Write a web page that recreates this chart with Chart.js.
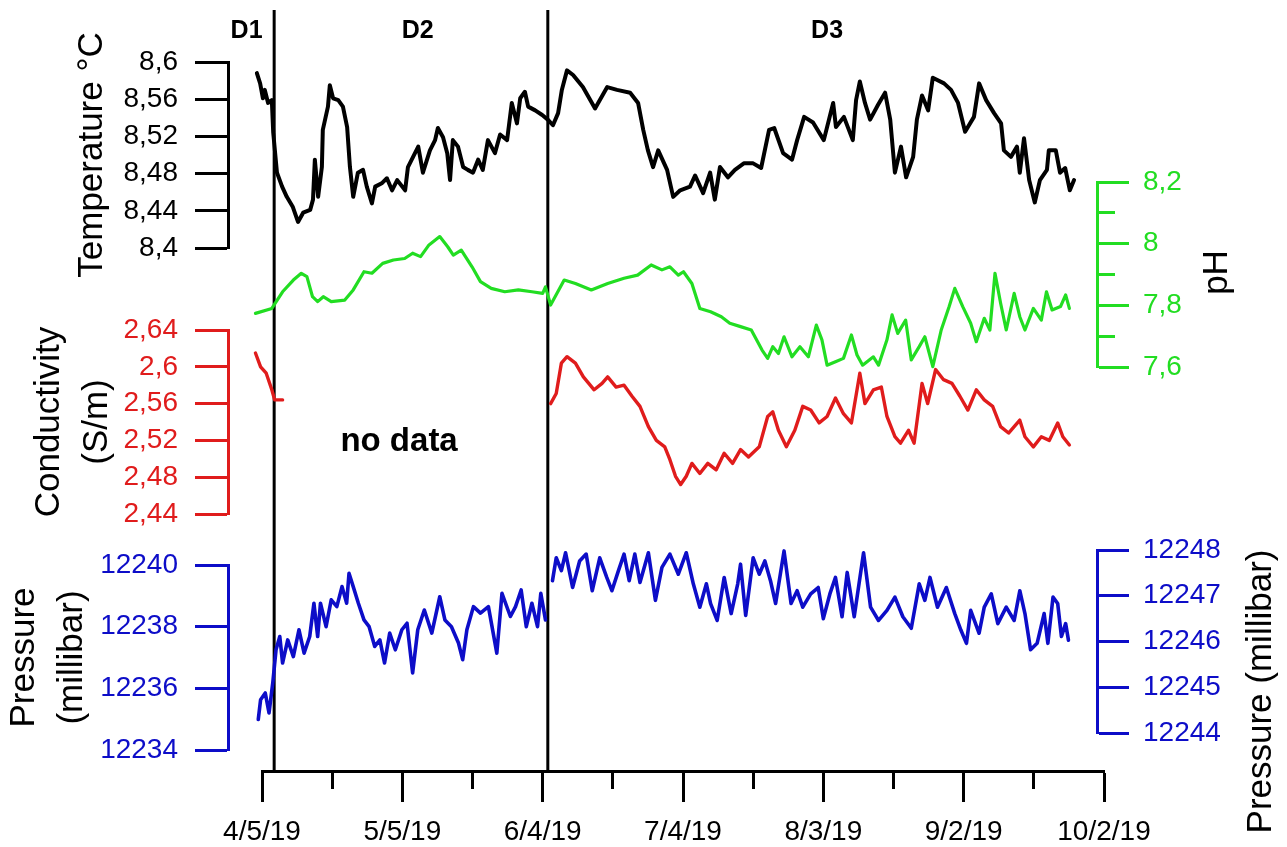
<!DOCTYPE html>
<html><head><meta charset="utf-8">
<script src="https://cdn.jsdelivr.net/npm/chart.js@4.4.1/dist/chart.umd.min.js"></script>
<style>
html,body{margin:0;padding:0;background:#fff;}
#wrap{position:relative;width:1287px;height:847px;overflow:hidden;background:#fff;}
#wrap canvas{position:absolute;left:0;top:0;}
</style></head><body>
<div id="wrap">
<canvas id="cAxis" width="1287" height="847"></canvas>
<canvas id="cTemp" width="1287" height="847"></canvas>
<canvas id="cPH" width="1287" height="847"></canvas>
<canvas id="cCond" width="1287" height="847"></canvas>
<canvas id="cPressL" width="1287" height="847"></canvas>
<canvas id="cPressR" width="1287" height="847"></canvas>
</div>
<script>
// ---------- DATA (x = days since 4/5/19) ----------
const xTickDays = [0, 30, 60, 90, 120, 150, 180];
const xTickLabels = ['4/5/19', '5/5/19', '6/4/19', '7/4/19', '8/3/19', '9/2/19', '10/2/19'];
const boundaryDays = [2.6, 61.1];
const regionNames = ['D1', 'D2', 'D3'];
const regionCenterDays = [-3.3, 33.3, 120.8];
const noDataDay = 29.3;

const tempTicks = [8.4, 8.44, 8.48, 8.52, 8.56, 8.6];
const tempTickLabels = ['8,4', '8,44', '8,48', '8,52', '8,56', '8,6'];
const phTicks = [7.6, 7.7, 7.8, 7.9, 8.0, 8.1, 8.2];
const phTickLabels = ['7,6', '', '7,8', '', '8', '', '8,2'];
const condTicks = [2.44, 2.48, 2.52, 2.56, 2.6, 2.64];
const condTickLabels = ['2,44', '2,48', '2,52', '2,56', '2,6', '2,64'];
const pressLeftTicks = [12234, 12236, 12238, 12240];
const pressLeftTickLabels = ['12234', '12236', '12238', '12240'];
const pressRightTicks = [12244, 12245, 12246, 12247, 12248];
const pressRightTickLabels = ['12244', '12245', '12246', '12247', '12248'];

const tempDays = [-1.1,-0.4,0.2,0.6,1.3,2.1,2.4,3.2,4.3,5.3,6.6,7.7,8.8,10.3,10.9,11.3,12.0,12.8,13.0,14.1,14.5,15.2,16.3,17.3,18.2,18.8,19.5,20.5,21.6,22.4,23.5,24.2,25.7,26.7,27.8,28.9,30.6,31.2,32.3,33.4,34.4,35.9,37.0,37.6,38.7,39.6,40.2,40.8,41.9,43.0,44.0,45.1,46.2,47.2,48.3,49.8,50.9,52.4,53.4,54.5,55.2,56.2,56.9,58.4,59.9,61.1,62.2,63.3,64.1,65.2,66.5,68.6,71.2,73.8,75.9,78.7,80.4,81.5,82.5,83.6,84.7,86.6,87.9,89.4,91.5,92.6,94.3,95.8,96.8,97.9,99.6,101.1,103.0,105.0,106.7,108.4,109.5,111.4,113.3,114.4,115.9,117.8,120.1,122.1,122.7,124.4,126.3,127.0,127.8,128.9,130.0,131.7,133.2,134.3,135.3,136.6,137.7,139.2,140.0,141.1,142.4,143.4,145.8,147.3,148.8,150.3,152.2,153.3,154.8,156.5,158.0,158.6,160.1,161.4,162.0,162.9,164.0,165.2,166.3,167.8,168.2,169.7,170.6,171.7,172.7,173.6];
const tempValues = [8.588,8.577,8.561,8.570,8.556,8.559,8.524,8.481,8.466,8.455,8.444,8.428,8.438,8.441,8.452,8.495,8.455,8.487,8.527,8.552,8.575,8.561,8.559,8.552,8.530,8.487,8.455,8.481,8.484,8.466,8.448,8.466,8.470,8.475,8.462,8.473,8.462,8.487,8.498,8.509,8.481,8.505,8.516,8.529,8.519,8.502,8.473,8.516,8.509,8.487,8.484,8.481,8.495,8.484,8.516,8.502,8.522,8.516,8.556,8.534,8.561,8.568,8.552,8.548,8.543,8.538,8.532,8.545,8.570,8.591,8.586,8.573,8.550,8.573,8.570,8.567,8.556,8.527,8.505,8.487,8.505,8.484,8.455,8.462,8.466,8.478,8.459,8.481,8.452,8.487,8.476,8.484,8.491,8.491,8.486,8.527,8.529,8.502,8.495,8.516,8.541,8.535,8.516,8.556,8.530,8.541,8.516,8.559,8.579,8.556,8.538,8.554,8.567,8.538,8.481,8.509,8.476,8.498,8.538,8.564,8.548,8.583,8.577,8.570,8.556,8.525,8.541,8.577,8.559,8.545,8.534,8.505,8.498,8.509,8.481,8.518,8.473,8.449,8.473,8.484,8.505,8.505,8.481,8.486,8.462,8.473];

const phDays = [-1.4,2.1,4.4,6.7,8.4,9.6,10.8,11.9,13.1,14.8,17.7,19.5,21.8,23.5,25.8,28.1,30.5,32.2,33.9,35.7,38.0,39.7,40.9,42.6,44.9,46.7,49.0,51.9,54.8,57.7,60.0,60.6,61.7,64.6,67.0,70.4,73.9,77.4,80.3,83.2,85.5,87.2,89.0,90.1,91.9,93.6,95.9,98.2,100.0,102.3,104.6,106.9,108.1,109.2,110.4,111.6,113.3,115.0,116.8,118.5,119.7,120.8,122.6,124.3,126.0,127.2,128.4,130.7,131.8,133.6,134.7,135.9,137.6,138.8,140.5,141.7,143.4,145.2,146.9,148.1,149.8,151.5,152.7,154.4,155.6,156.7,157.9,159.1,160.8,162.0,163.1,164.9,166.6,167.7,168.9,170.7,171.8,172.6];
const phValues = [7.774,7.790,7.844,7.882,7.904,7.893,7.828,7.812,7.828,7.812,7.817,7.850,7.909,7.904,7.936,7.947,7.952,7.969,7.958,7.996,8.023,7.990,7.963,7.979,7.925,7.877,7.855,7.844,7.850,7.844,7.839,7.860,7.801,7.882,7.871,7.850,7.871,7.888,7.898,7.931,7.915,7.925,7.898,7.909,7.871,7.790,7.779,7.763,7.742,7.731,7.720,7.655,7.628,7.666,7.644,7.698,7.633,7.666,7.633,7.736,7.688,7.606,7.617,7.628,7.704,7.639,7.606,7.633,7.606,7.688,7.769,7.709,7.752,7.623,7.666,7.698,7.601,7.720,7.796,7.855,7.796,7.742,7.682,7.758,7.720,7.904,7.807,7.720,7.839,7.763,7.720,7.790,7.752,7.844,7.785,7.796,7.834,7.790];

const condD1Days = [-1.4,-0.3,0.9,2.1,2.7,4.4];
const condD1Values = [2.615,2.600,2.593,2.575,2.564,2.564];
const condD3Days = [61.7,62.9,64.0,65.2,67.0,68.7,71.0,72.7,73.9,75.7,77.4,79.1,80.8,82.6,84.3,86.1,87.2,88.4,89.5,90.7,91.9,93.6,95.3,97.1,98.8,100.6,102.3,104.0,106.3,108.1,109.2,110.4,112.1,113.9,115.6,117.3,119.1,120.8,122.6,124.3,126.0,127.8,128.9,130.7,132.4,133.6,135.3,136.5,138.2,139.4,141.1,142.3,144.0,145.7,147.5,149.2,150.9,152.7,154.4,156.2,157.9,159.6,162.0,163.1,164.9,166.6,168.3,170.1,171.2,172.6];
const condD3Values = [2.560,2.571,2.604,2.611,2.604,2.589,2.575,2.582,2.589,2.578,2.580,2.568,2.557,2.535,2.520,2.513,2.499,2.481,2.472,2.481,2.495,2.484,2.495,2.488,2.506,2.495,2.510,2.502,2.513,2.546,2.551,2.531,2.513,2.531,2.557,2.553,2.539,2.546,2.566,2.549,2.539,2.593,2.560,2.575,2.578,2.546,2.524,2.517,2.531,2.517,2.582,2.560,2.597,2.586,2.582,2.568,2.553,2.575,2.564,2.557,2.535,2.528,2.542,2.524,2.513,2.524,2.520,2.539,2.524,2.515];

const pressD12Days = [-0.8,-0.3,0.7,1.5,2.3,3.0,3.8,4.4,5.5,6.7,7.9,9.0,10.2,11.1,11.9,12.5,13.7,14.8,16.0,17.1,18.1,18.6,19.5,20.6,21.8,22.9,24.1,25.2,26.2,27.3,28.5,29.9,31.0,32.2,33.3,34.7,36.3,38.0,39.1,40.5,42.0,42.9,43.8,45.2,46.7,48.4,50.2,51.3,53.1,54.2,55.4,56.5,57.7,58.9,59.6,60.6];
const pressD12Values = [12234.99,12235.63,12235.85,12235.20,12236.17,12237.25,12237.68,12236.82,12237.57,12237.03,12237.90,12237.14,12237.68,12238.76,12237.68,12238.76,12238.00,12238.87,12238.65,12239.30,12238.76,12239.73,12239.30,12238.76,12238.22,12238.00,12237.36,12237.57,12236.82,12237.79,12237.25,12237.90,12238.11,12236.50,12237.90,12238.54,12237.79,12238.97,12238.22,12238.00,12237.47,12236.93,12237.90,12238.65,12238.44,12238.65,12237.14,12239.08,12238.33,12238.65,12239.19,12238.00,12238.76,12238.00,12239.08,12238.22];
const pressD3Days = [62.1,62.9,64.0,64.9,66.4,67.9,69.3,70.6,72.2,73.7,74.8,76.2,77.4,78.5,79.7,80.8,82.6,84.1,85.5,87.2,89.0,90.7,92.2,93.6,95.0,95.9,97.3,98.8,100.3,101.7,102.3,103.4,105.0,106.3,107.5,108.7,109.8,111.6,113.1,114.4,115.6,117.3,118.9,120.0,121.4,122.6,124.0,125.1,126.6,128.6,130.1,131.8,133.6,135.3,137.0,138.8,140.5,141.7,142.8,144.4,146.3,148.1,149.4,150.6,151.5,153.3,154.4,155.9,157.3,159.1,160.8,162.0,163.1,164.3,165.7,167.2,168.0,169.1,170.1,170.9,171.8,172.4];
const pressD3Values = [12247.33,12247.83,12247.55,12247.94,12247.18,12247.76,12247.91,12247.11,12247.83,12247.40,12247.11,12247.55,12247.91,12247.33,12247.91,12247.29,12247.94,12246.90,12247.62,12247.91,12247.47,12247.94,12247.26,12246.75,12247.26,12246.83,12246.46,12247.40,12246.61,12247.26,12247.69,12246.57,12247.83,12247.47,12247.76,12247.33,12246.83,12247.98,12246.83,12247.11,12246.75,12247.04,12247.18,12246.50,12247.04,12247.40,12246.54,12247.51,12246.54,12247.94,12246.75,12246.46,12246.68,12246.97,12246.54,12246.29,12247.26,12246.90,12247.40,12246.75,12247.18,12246.61,12246.25,12245.96,12246.68,12246.18,12246.75,12247.04,12246.39,12246.75,12246.46,12247.11,12246.61,12245.82,12245.96,12246.61,12245.96,12246.97,12246.83,12246.11,12246.39,12246.03];

// ---------- LAYOUT / STYLE ----------
const FONT = '"Liberation Sans", Arial, Helvetica, sans-serif';
const W = 1287, H = 847;
const X_LEFT_PX = 262, X_RIGHT_PX = 1104;            // pixel span of the date axis
const pxPerDay = (X_RIGHT_PX - X_LEFT_PX) / (xTickDays[xTickDays.length - 1] - xTickDays[0]);
const dayAt = px => xTickDays[0] + (px - X_LEFT_PX) / pxPerDay;

const GREEN = '#22dd22', RED = '#e01c1c', BLUE = '#0d0dc8';

function sideTitlePlugin(t) {
  return {
    id: 'sideTitle',
    afterDraw(chart) {
      const s = chart.scales.y, ctx = chart.ctx;
      ctx.save();
      ctx.translate(s.left + t.dx, (s.top + s.bottom) / 2 + t.dy);
      ctx.rotate(-Math.PI / 2);
      ctx.font = '35px ' + FONT;
      ctx.fillStyle = '#000';
      ctx.textAlign = 'center';
      ctx.textBaseline = 'middle';
      ctx.fillText(t.text, 0, 0);
      ctx.restore();
    }
  };
}

function makePanel(id, o) {
  const isLeft = o.side === 'left';
  const areaLeft = 228;
  const areaRight = isLeft ? X_RIGHT_PX : 1097;
  const axisBox = isLeft ? 228 : 190;
  return new Chart(document.getElementById(id), {
    type: 'line',
    data: {
      datasets: o.series.map(sr => ({
        data: sr.days.map((d, i) => ({ x: d, y: sr.values[i] })),
        borderColor: o.lineColor, borderWidth: o.lineWidth || 3,
        pointRadius: 0, tension: 0, fill: false, clip: false,
        borderJoinStyle: 'round', borderCapStyle: 'round'
      }))
    },
    options: {
      responsive: false, animation: false, devicePixelRatio: 1, events: [],
      layout: { padding: {
        left: isLeft ? 0 : areaLeft,
        right: isLeft ? W - areaRight : W - areaRight - axisBox,
        top: o.top, bottom: H - o.bottom } },
      plugins: { legend: { display: false }, tooltip: { enabled: false } },
      scales: {
        x: { type: 'linear', display: false, min: dayAt(areaLeft), max: dayAt(areaRight) },
        y: {
          type: 'linear', position: o.side,
          min: o.ticks[0], max: o.ticks[o.ticks.length - 1],
          afterBuildTicks: s => { s.ticks = o.ticks.map(v => ({ value: v })); },
          afterFit: s => { s.width = axisBox; },
          border: { display: true, color: o.axisColor, width: 3 },
          grid: {
            display: true, drawOnChartArea: false, drawTicks: true,
            tickLength: isLeft ? 33 : 32, tickWidth: 3, tickColor: o.axisColor,
            tickBorderDash: c => (o.tickLabels[c.index] === '' ? [16, 400] : [])
          },
          ticks: {
            autoSkip: false, color: o.labelColor, font: { family: FONT, size: 28 },
            padding: isLeft ? 17 : 14,
            callback: (v, i) => o.tickLabels[i]
          },
          title: o.title ? {
            display: true, text: o.title, color: '#000',
            font: { family: FONT, size: 35, lineHeight: 1.35 },
            padding: { top: o.titlePad, bottom: 0 }
          } : { display: false }
        }
      }
    },
    plugins: o.sideTitle ? [sideTitlePlugin(o.sideTitle)] : []
  });
}

// ---------- shared date axis + period boundaries ----------
const xAllTicks = [];
const xAllLabels = [];
xTickDays.forEach((d, i) => {
  xAllTicks.push(d); xAllLabels.push(xTickLabels[i]);
  if (i < xTickDays.length - 1) { xAllTicks.push((d + xTickDays[i + 1]) / 2); xAllLabels.push(''); }
});

const regionPlugin = {
  id: 'regions',
  afterDraw(chart) {
    const xs = chart.scales.x, ctx = chart.ctx;
    ctx.save();
    ctx.fillStyle = '#000';
    ctx.textAlign = 'center';
    ctx.textBaseline = 'middle';
    ctx.font = 'bold 25px ' + FONT;
    regionNames.forEach((n, i) => ctx.fillText(n, xs.getPixelForValue(regionCenterDays[i]), 31));
    ctx.font = 'bold 33px ' + FONT;
    ctx.fillText('no data', xs.getPixelForValue(noDataDay), 442);
    ctx.restore();
  }
};

new Chart(document.getElementById('cAxis'), {
  type: 'line',
  data: { datasets: boundaryDays.map(d => ({
    data: [{ x: d, y: 0 }, { x: d, y: 1 }],
    borderColor: '#000', borderWidth: 3, pointRadius: 0, fill: false, clip: false
  })) },
  options: {
    responsive: false, animation: false, devicePixelRatio: 1, events: [],
    layout: { padding: { left: X_LEFT_PX, right: W - X_RIGHT_PX, top: 10, bottom: 0 } },
    plugins: { legend: { display: false }, tooltip: { enabled: false } },
    scales: {
      x: {
        type: 'linear', position: 'bottom',
        min: xTickDays[0], max: xTickDays[xTickDays.length - 1],
        afterBuildTicks: s => { s.ticks = xAllTicks.map(v => ({ value: v })); },
        afterFit: s => { s.height = 76; },
        border: { display: true, color: '#000', width: 3 },
        grid: {
          display: true, drawOnChartArea: false, drawTicks: true,
          tickLength: 31, tickWidth: 3, tickColor: '#000',
          tickBorderDash: c => (xAllLabels[c.index] === '' ? [16, 400] : [])
        },
        ticks: {
          autoSkip: false, maxRotation: 0, color: '#000',
          font: { family: FONT, size: 28 }, padding: 13,
          callback: (v, i) => xAllLabels[i]
        }
      },
      y: { type: 'linear', display: false, min: 0, max: 1 }
    }
  },
  plugins: [regionPlugin]
});

// ---------- panels ----------
makePanel('cTemp', {
  side: 'left', top: 62, bottom: 248,
  ticks: tempTicks, tickLabels: tempTickLabels,
  axisColor: '#000', labelColor: '#000', lineColor: '#000', lineWidth: 4,
  title: 'Temperature °C', titlePad: 69,
  series: [{ days: tempDays, values: tempValues }]
});
makePanel('cPH', {
  side: 'right', top: 182, bottom: 367,
  ticks: phTicks, tickLabels: phTickLabels,
  axisColor: GREEN, labelColor: GREEN, lineColor: GREEN, lineWidth: 3.2,
  sideTitle: { text: 'pH', dx: 120, dy: -2 },
  series: [{ days: phDays, values: phValues }]
});
makePanel('cCond', {
  side: 'left', top: 330, bottom: 514,
  ticks: condTicks, tickLabels: condTickLabels,
  axisColor: RED, labelColor: RED, lineColor: RED, lineWidth: 3.4,
  title: ['Conductivity', '(S/m)'], titlePad: 26,
  series: [{ days: condD1Days, values: condD1Values }, { days: condD3Days, values: condD3Values }]
});
makePanel('cPressL', {
  side: 'left', top: 565, bottom: 750,
  ticks: pressLeftTicks, tickLabels: pressLeftTickLabels,
  axisColor: BLUE, labelColor: BLUE, lineColor: BLUE, lineWidth: 3.6,
  title: ['Pressure', '(millibar)'], titlePad: 1,
  series: [{ days: pressD12Days, values: pressD12Values }]
});
makePanel('cPressR', {
  side: 'right', top: 550, bottom: 733,
  ticks: pressRightTicks, tickLabels: pressRightTickLabels,
  axisColor: BLUE, labelColor: BLUE, lineColor: BLUE, lineWidth: 3.6,
  sideTitle: { text: 'Pressure (millibar)', dx: 164, dy: 50 },
  series: [{ days: pressD3Days, values: pressD3Values }]
});
</script>
</body></html>
